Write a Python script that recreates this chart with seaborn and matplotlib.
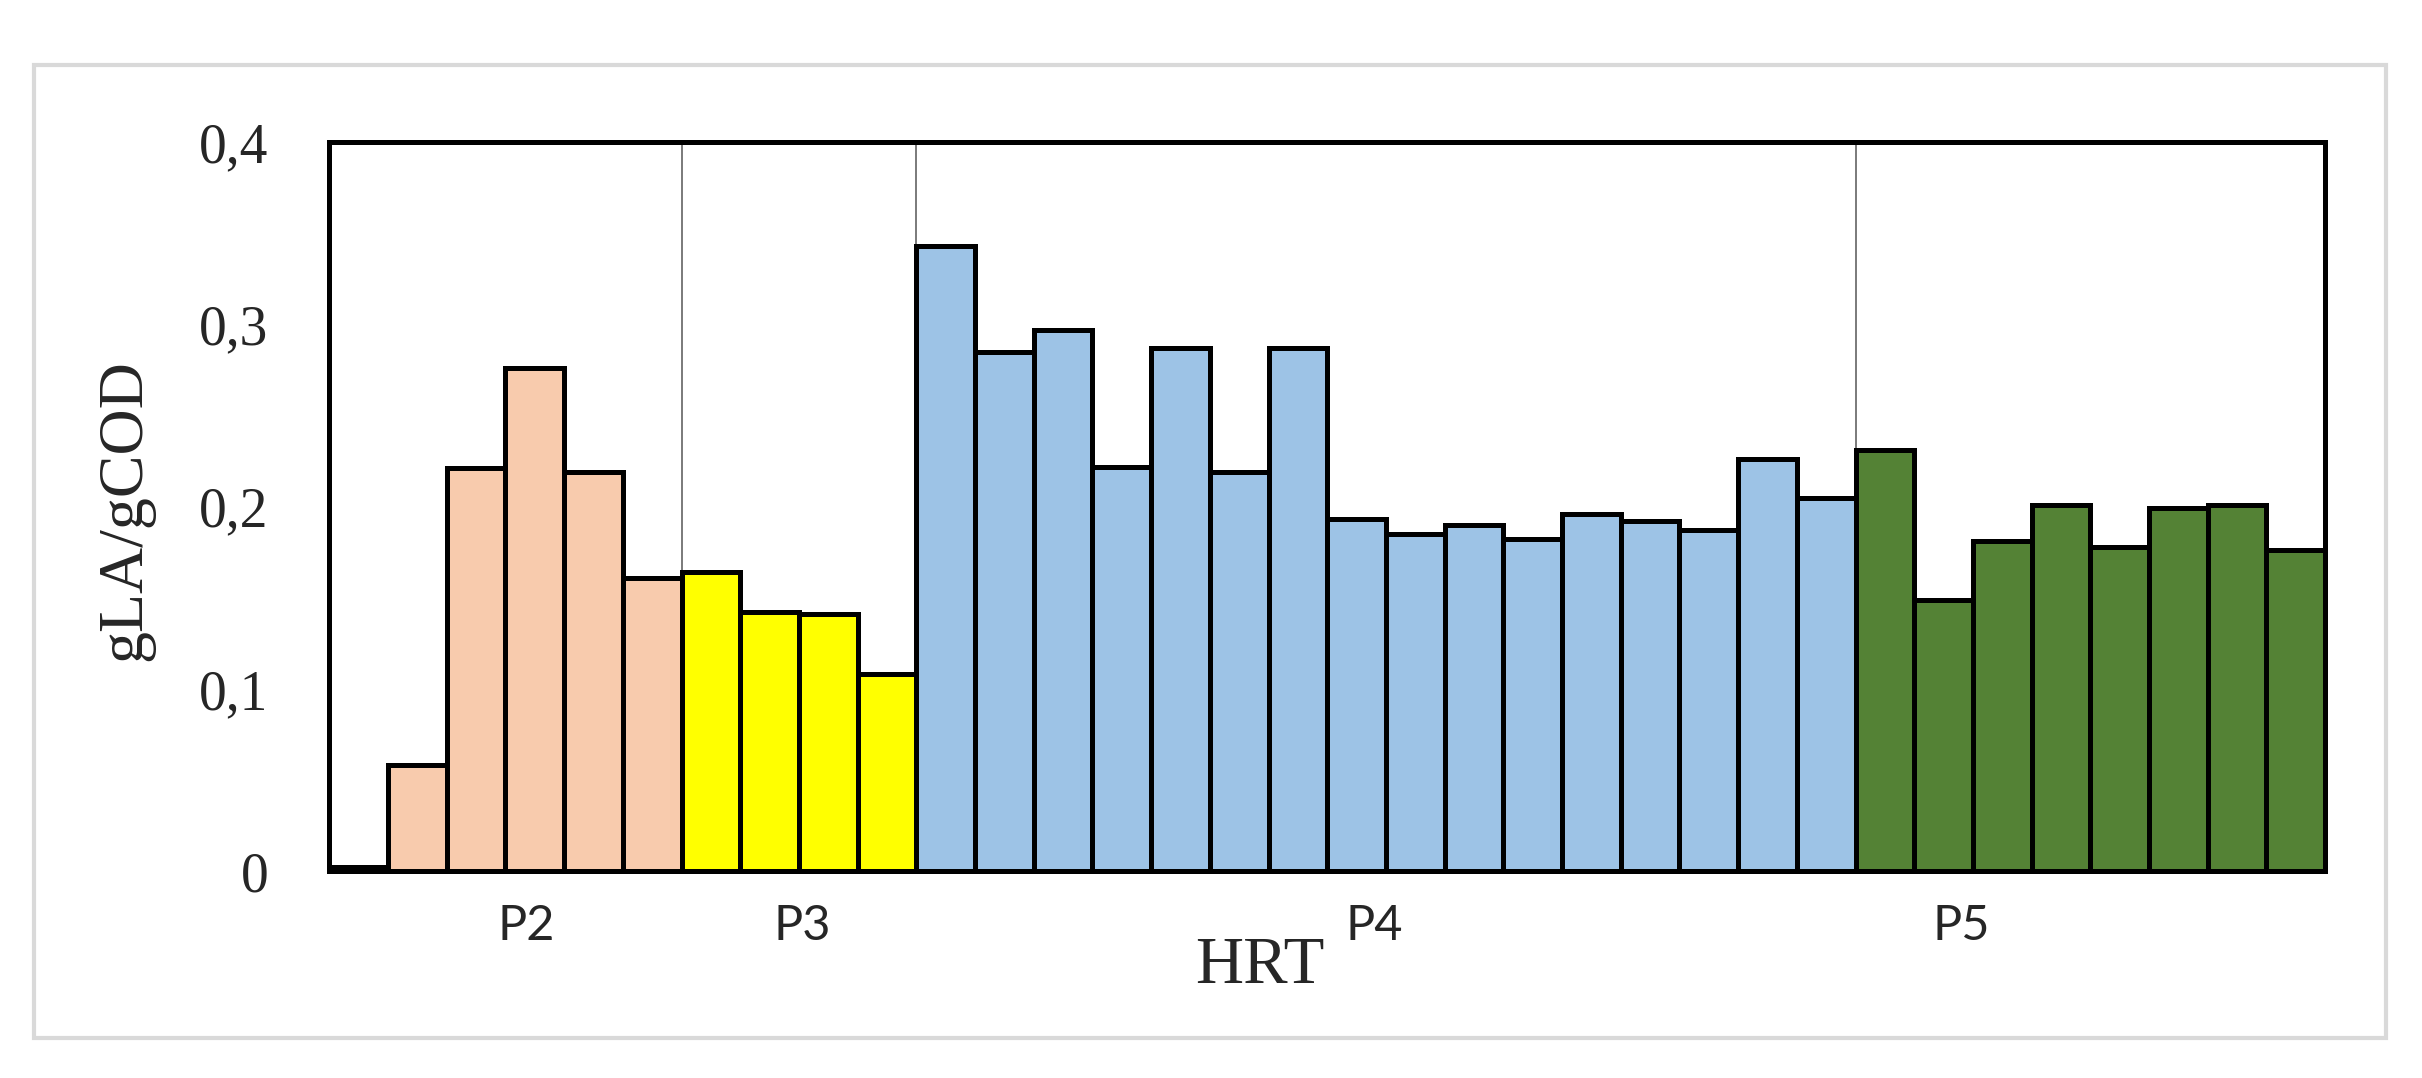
import matplotlib
matplotlib.use('Agg')
import matplotlib.pyplot as plt
import seaborn as sns
import pandas as pd
from matplotlib.patches import Rectangle

# значения gLA/gCOD по периодам
p1_vals = [0.002]
p2_vals = [0.058, 0.221, 0.276, 0.219, 0.161]
p3_vals = [0.164, 0.142, 0.141, 0.108]
p4_vals = [0.343, 0.285, 0.297, 0.222, 0.287, 0.219, 0.287, 0.193,
           0.185, 0.190, 0.182, 0.196, 0.192, 0.187, 0.226, 0.205]
p5_vals = [0.231, 0.149, 0.181, 0.201, 0.178, 0.199, 0.201, 0.176]

periods = ['P1', 'P2', 'P3', 'P4', 'P5']
colors = {'P1': '#FFFFFF', 'P2': '#F8CBAD', 'P3': '#FFFF00', 'P4': '#9DC3E6', 'P5': '#548235'}
period_labels = ['P2', 'P3', 'P4', 'P5']
period_label_x = [2.85, 7.55, 17.3, 27.3]
separators = [5.5, 9.5, 25.5]
yticks = [0, 0.1, 0.2, 0.3, 0.4]
ytick_labels = ['0', '0,1', '0,2', '0,3', '0,4']

vals = p1_vals + p2_vals + p3_vals + p4_vals + p5_vals
groups = (['P1'] * len(p1_vals) + ['P2'] * len(p2_vals) + ['P3'] * len(p3_vals)
          + ['P4'] * len(p4_vals) + ['P5'] * len(p5_vals))
data = pd.DataFrame({'idx': range(len(vals)), 'val': vals, 'period': groups})

sns.set_style('white')
plt.rcParams['font.family'] = ['Liberation Serif', 'DejaVu Serif']

fig = plt.figure(figsize=(24.22, 10.78), dpi=100)
ax = fig.add_axes([0.136, 0.192, 0.824, 0.676])

# разделители периодов (тонкие серые линии)
for s in separators:
    ax.axvline(s, color='#6f6f6f', lw=1.3, zorder=0)

sns.barplot(data=data, x='idx', y='val', hue='period', palette=colors,
            saturation=1, dodge=False, width=1.0, edgecolor='black', linewidth=3.6,
            legend=False, ax=ax, zorder=2)

ax.set_xlim(-0.5, len(vals) - 0.5)
ax.set_ylim(0, 0.4)
ax.set_yticks(yticks)
ax.set_yticklabels(ytick_labels, fontsize=40)
ax.tick_params(axis='y', length=0, pad=44)
ax.set_xticks([])
ax.set_xlabel('')
ax.set_ylabel('gLA/gCOD', fontsize=46)
ax.yaxis.set_label_coords(-0.088, 0.495)

for sp in ax.spines.values():
    sp.set_color('black')
    sp.set_linewidth(3.6)

for lab, x in zip(period_labels, period_label_x):
    ax.text(x, -0.018, lab, ha='center', va='top', fontsize=35,
            family=['Lato', 'DejaVu Sans'], transform=ax.transData)

fig.text(0.52, 0.103, 'HRT', ha='center', va='center', fontsize=48)

# серая рамка вокруг рисунка
fig.patches.append(Rectangle((0.014, 0.037), 0.971, 0.903, transform=fig.transFigure,
                             fill=False, edgecolor='#d9d9d9', lw=3))

fig.savefig('out.png', dpi=100)
